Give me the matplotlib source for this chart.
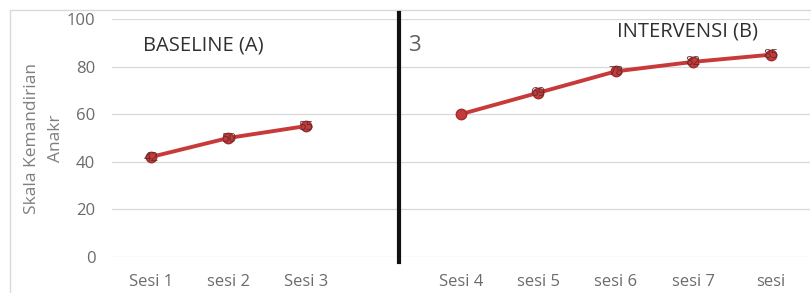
import matplotlib
matplotlib.use("Agg")
import matplotlib.pyplot as plt
from matplotlib.patches import Rectangle
from matplotlib.lines import Line2D

categories = ["Sesi 1", "sesi 2", "Sesi 3", "", "Sesi 4", "sesi 5", "sesi 6", "sesi 7", "sesi"]
baseline_idx = [0, 1, 2]
baseline_vals = [42, 50, 55]
interv_idx = [4, 5, 6, 7, 8]
interv_vals = [60, 69, 78, 82, 85]
baseline_labels = ["42", "50", "55"]
interv_labels = ["", "69", "78", "82", "85"]
yticks = [0, 20, 40, 60, 80, 100]

W, H = 811, 293
fig = plt.figure(figsize=(W / 100, H / 100), dpi=100)
plt.rcParams['font.family'] = ['Open Sans', 'DejaVu Sans']

ax = fig.add_axes([112 / W, 1 - 257 / H, (809.5 - 112) / W, (257 - 19) / H])
ax.set_xlim(-0.5, len(categories) - 0.5)
ax.set_ylim(0, 100)
ax.set_yticks(yticks)
ax.set_xticks(range(len(categories)))
ax.set_xticklabels(categories)
ax.grid(axis='y', color='#d9d9d9', linewidth=0.9)
ax.set_axisbelow(True)
for s in ax.spines.values():
    s.set_visible(False)
ax.tick_params(length=0, labelsize=12, labelcolor='#6b6b6b')
ax.tick_params(axis='y', pad=12)
ax.tick_params(axis='x', pad=12)

red = '#c83a3a'
for idx, vals, labs in [(baseline_idx, baseline_vals, baseline_labels),
                        (interv_idx, interv_vals, interv_labels)]:
    ax.plot(idx, vals, color=red, linewidth=2.8, marker='o', markersize=7.5,
            markerfacecolor=red, markeredgecolor='#a02c2c', zorder=3)
    for x, v, t in zip(idx, vals, labs):
        if t:
            ax.text(x, v, t, ha='center', va='center', fontsize=9.5,
                    color='#5a2c2c', alpha=0.9, zorder=4)

ax.set_ylabel("Skala Kemandirian\nAnakr", fontsize=12.5, color='#7f7f7f', labelpad=2,
              linespacing=1.7)

# phase divider
fig.add_artist(Line2D([399 / W, 399 / W], [1 - 13 / H, 1 - 262 / H],
                      color='#111111', linewidth=3))
fig.text(408 / W, 1 - 45 / H, "3", fontsize=16, color='#606060', va='center')
fig.text(143 / W, 1 - 45 / H, "BASELINE (A)", fontsize=14.5, color='#303030', va='center')
fig.text(617 / W, 1 - 31 / H, "INTERVENSI (B)", fontsize=14.5, color='#303030', va='center')

# outer chart frame
fig.add_artist(Rectangle((10 / W, -0.2), 1.2, 1 - 10 / H + 0.2, fill=False,
                         edgecolor='#d9d9d9', linewidth=1.0))

fig.savefig("out.png", dpi=100)
